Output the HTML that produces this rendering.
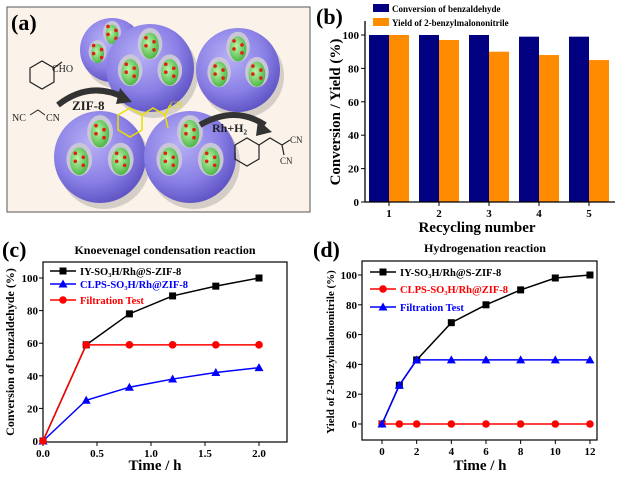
<!DOCTYPE html>
<html><head><meta charset="utf-8"><style>
body{margin:0;background:#fff;width:620px;height:477px;overflow:hidden}
svg{display:block;font-family:"Liberation Serif",serif;font-weight:bold}
</style></head><body>
<svg id="fig" width="620" height="477" viewBox="0 0 620 477" xmlns="http://www.w3.org/2000/svg">
<defs>
<radialGradient id="sph" cx="0.4" cy="0.35" r="0.7"><stop offset="0" stop-color="#b7b0f5"/><stop offset="0.6" stop-color="#8a80e6"/><stop offset="1" stop-color="#5a4fc0"/></radialGradient>
<radialGradient id="grn" cx="0.4" cy="0.4" r="0.7"><stop offset="0" stop-color="#b9f5a8"/><stop offset="1" stop-color="#3fae3a"/></radialGradient>
</defs>
<g>
<rect x="7" y="7" width="303" height="205" fill="#fbf3ea" stroke="#555" stroke-width="1"/>
<g id="spheres"></g>
<text x="11" y="30" font-size="22">(a)</text>
<g stroke="#222" fill="none" stroke-width="1.2">
<polygon points="30,68 42,61 54,68 54,82 42,89 30,82"/><line x1="54" y1="68" x2="62" y2="62"/></g>
<text x="52" y="72" font-size="10" font-weight="normal" fill="#222">CHO</text>
<text x="12" y="121" font-size="10" font-weight="normal" fill="#222">NC</text>
<polyline points="30,115 38,110 45,115" fill="none" stroke="#222"/>
<text x="46" y="121" font-size="10" font-weight="normal" fill="#222">CN</text>
<path d="M58,105 Q90,80 125,98" stroke="#333" stroke-width="6" fill="none"/>
<polygon points="120,88 132,102 116,104" fill="#333"/>
<text x="72" y="110" font-size="13" fill="#222">ZIF-8</text>
<g stroke="#e8e000" fill="none" stroke-width="1.5"><polygon points="118,115 130,108 142,115 142,130 130,137 118,130"/><polyline points="142,115 153,108 165,115 170,105"/><line x1="165" y1="115" x2="168" y2="128"/></g>
<text x="170" y="108" font-size="9" font-weight="normal" fill="#e8e000">CN</text>
<path d="M200,125 Q235,105 265,125" stroke="#333" stroke-width="6" fill="none"/>
<polygon points="258,120 272,132 256,136" fill="#333"/>
<text x="212" y="132" font-size="12" fill="#222">Rh+H₂</text>
<g stroke="#222" fill="none" stroke-width="1.2"><polygon points="235,145 247,138 259,145 259,159 247,166 235,159"/><polyline points="259,145 270,138 282,145"/><line x1="282" y1="145" x2="290" y2="140"/><line x1="282" y1="145" x2="284" y2="155"/></g>
<text x="290" y="143" font-size="9" font-weight="normal" fill="#222">CN</text>
<text x="280" y="164" font-size="9" font-weight="normal" fill="#222">CN</text>
</g>
<g id="pb"></g>
<g id="pc"></g>
<g id="pd"></g>
</svg>
<script>
const NS='http://www.w3.org/2000/svg';
function el(p,t,a,txt){const e=document.createElementNS(NS,t);for(const k in a)e.setAttribute(k,a[k]);if(txt!==undefined)e.textContent=txt;p.appendChild(e);return e;}

// Panel b data
const bCategories=[1,2,3,4,5];
const bConversion=[100,100,100,99,99];
const bYield=[100,97,90,88,85];
const bYTicks=[0,20,40,60,80,100];
// Panel c data
const cTime=[0,0.4,0.8,1.2,1.6,2.0];
const cIY=[0,59,78,89,95,100];
const cCLPS=[0,25,33,38,42,45];
const cFilt=[0,59,59,59,59,59];
const cXTicks=[0,0.5,1.0,1.5,2.0];
const cXTickLabels=['0.0','0.5','1.0','1.5','2.0'];
const cYTicks=[0,20,40,60,80,100];
// Panel d data
const dTime=[0,1,2,4,6,8,10,12];
const dIY=[0,26,43,68,80,90,98,100];
const dCLPS=[0,0,0,0,0,0,0,0];
const dFiltTime=[0,1,2,4,6,8,10,12];
const dFilt=[0,26,43,43,43,43,43,43];
const dXTicks=[0,2,4,6,8,10,12];
const dYTicks=[0,20,40,60,80,100];

// spheres for panel a
(function(){
 const g=document.getElementById('spheres');
 const S=[[112,50,32],[150,68,44],[238,70,42],[100,157,46],[190,157,46]];
 S.forEach((s,i)=>{
  const [cx,cy,r]=s;
  el(g,'circle',{cx:cx+4,cy:cy+6,r:r,fill:'#000',opacity:0.15});
  el(g,'circle',{cx,cy,r,fill:'url(#sph)'});
  [[-0.45,0.05],[0.45,0.05],[0,-0.55]].forEach(o=>{
   el(g,'ellipse',{cx:cx+o[0]*r,cy:cy+o[1]*r,rx:r*0.28,ry:r*0.36,fill:'#c9c6d8'});
   el(g,'ellipse',{cx:cx+o[0]*r,cy:cy+o[1]*r+2,rx:r*0.2,ry:r*0.3,fill:'url(#grn)'});
   for(let k=0;k<4;k++)el(g,'circle',{cx:cx+o[0]*r+(k%2?4:-4),cy:cy+o[1]*r-6+k*4,r:1.8,fill:'#e02010'});
  });
 });
})();

function yLabel(g,x,y,txt,fs){el(g,'text',{x:0,y:0,'font-size':fs,'text-anchor':'middle',transform:`translate(${x},${y}) rotate(-90)`},txt);}

// Panel b
(function(){
 const g=document.getElementById('pb');
 const L=365,R=615,T=21,B=202;
 const xs=c=>389+(c-1)*50; const ys=v=>B-v*1.67;
 bCategories.forEach((c,i)=>{
  const r1=el(g,'rect',{x:xs(c)-20,y:ys(bConversion[i]),width:20,height:B-ys(bConversion[i]),fill:'#000080'});
  
  
  const r2=el(g,'rect',{x:xs(c),y:ys(bYield[i]),width:20,height:B-ys(bYield[i]),fill:'#ff8c00'});
  
  
  el(g,'line',{x1:xs(c),x2:xs(c),y1:B,y2:B+4,stroke:'#000'});
  el(g,'text',{x:xs(c),y:B+15,'font-size':11,'text-anchor':'middle'},c);
 });
 el(g,'line',{x1:L,x2:L,y1:T,y2:B,stroke:'#000','stroke-width':1.3});
 el(g,'line',{x1:L,x2:R,y1:B,y2:B,stroke:'#000','stroke-width':1.3});
 bYTicks.forEach(v=>{el(g,'line',{x1:L-4,x2:L,y1:ys(v),y2:ys(v),stroke:'#000'});el(g,'text',{x:L-6,y:ys(v)+4,'font-size':11,'text-anchor':'end'},v);});
 yLabel(g,340,112,'Conversion / Yield (%)',15);
 el(g,'text',{x:477,y:232,'font-size':15,'text-anchor':'middle'},'Recycling number');
 el(g,'text',{x:316,y:24,'font-size':22},'(b)');
 el(g,'rect',{x:373,y:4,width:16,height:8,fill:'#000080'});
 el(g,'text',{x:392,y:12,'font-size':9},'Conversion of benzaldehyde');
 el(g,'rect',{x:373,y:18,width:16,height:8,fill:'#ff8c00'});
 el(g,'text',{x:392,y:26,'font-size':9},'Yield of 2-benzylmalononitrile');
})();

function series(g,xs,ys,X,Y,color,marker,name){
 const pts=X.map((x,i)=>xs(x)+','+ys(Y[i])).join(' ');
 const pl=el(g,'polyline',{points:pts,fill:'none',stroke:color,'stroke-width':1.5});
 
 
 X.forEach((x,i)=>drawMarker(g,xs(x),ys(Y[i]),color,marker));
}
function drawMarker(g,x,y,c,m){
 if(m==='s')el(g,'rect',{x:x-3.5,y:y-3.5,width:7,height:7,fill:c});
 else if(m==='o')el(g,'circle',{cx:x,cy:y,r:3.8,fill:c});
 else el(g,'polygon',{points:`${x},${y-4.5} ${x+4.5},${y+3.5} ${x-4.5},${y+3.5}`,fill:c});
}
function legend(g,x,y,c,m,txt){
 el(g,'line',{x1:x,x2:x+26,y1:y,y2:y,stroke:c,'stroke-width':1.5});drawMarker(g,x+13,y,c,m);
 el(g,'text',{x:x+30,y:y+4,'font-size':10.5,fill:c},txt);
}

// Panel c
(function(){
 const g=document.getElementById('pc');
 const L=43,R=287,T=262,B=442;
 const xs=t=>43+t*108; const ys=v=>441-v*1.63;
 el(g,'rect',{x:L,y:T,width:R-L,height:B-T,fill:'none',stroke:'#000','stroke-width':1.2});
 cXTicks.forEach((t,i)=>{el(g,'line',{x1:xs(t),x2:xs(t),y1:B,y2:B+4,stroke:'#000'});el(g,'text',{x:xs(t),y:B+15,'font-size':11,'text-anchor':'middle'},cXTickLabels[i]);});
 cYTicks.forEach(v=>{el(g,'line',{x1:L-4,x2:L,y1:ys(v),y2:ys(v),stroke:'#000'});el(g,'text',{x:L-5,y:ys(v)+4,'font-size':11,'text-anchor':'end'},v);});
 series(g,xs,ys,cTime,cIY,'#000','s','iy-series');
 series(g,xs,ys,cTime,cCLPS,'#0000ff','t','clps-series');
 series(g,xs,ys,cTime,cFilt,'#ff0000','o','filtration-series');
 legend(g,50,271,'#000','s','IY-SO₃H/Rh@S-ZIF-8');
 legend(g,50,284,'#0000ff','t','CLPS-SO₃H/Rh@ZIF-8');
 legend(g,50,300,'#ff0000','o','Filtration Test');
 el(g,'text',{x:165,y:254,'font-size':12,'text-anchor':'middle'},'Knoevenagel condensation reaction');
 el(g,'text',{x:2,y:257,'font-size':22},'(c)');
 yLabel(g,14,352,'Conversion of benzaldehyde (%)',12);
 el(g,'text',{x:155,y:470,'font-size':15,'text-anchor':'middle'},'Time / h');
})();

// Panel d
(function(){
 const g=document.getElementById('pd');
 const L=362,R=597,T=261,B=440;
 const xs=t=>382+t*17.33; const ys=v=>424-v*1.49;
 el(g,'rect',{x:L,y:T,width:R-L,height:B-T,fill:'none',stroke:'#000','stroke-width':1.2});
 dXTicks.forEach(t=>{el(g,'line',{x1:xs(t),x2:xs(t),y1:B,y2:B+4,stroke:'#000'});el(g,'text',{x:xs(t),y:B+15,'font-size':11,'text-anchor':'middle'},t);});
 dYTicks.forEach(v=>{el(g,'line',{x1:L-4,x2:L,y1:ys(v),y2:ys(v),stroke:'#000'});el(g,'text',{x:L-5,y:ys(v)+4,'font-size':11,'text-anchor':'end'},v);});
 series(g,xs,ys,dTime,dIY,'#000','s','iy-series');
 series(g,xs,ys,dTime,dCLPS,'#ff0000','o','clps-series');
 series(g,xs,ys,dFiltTime,dFilt,'#0000ff','t','filtration-series');
 legend(g,370,272,'#000','s','IY-SO₃H/Rh@S-ZIF-8');
 legend(g,370,289,'#ff0000','o','CLPS-SO₃H/Rh@ZIF-8');
 legend(g,370,307,'#0000ff','t','Filtration Test');
 el(g,'text',{x:485,y:252,'font-size':12,'text-anchor':'middle'},'Hydrogenation reaction');
 el(g,'text',{x:313,y:257,'font-size':22},'(d)');
 yLabel(g,334,352,'Yield of 2-benzylmalononitrile (%)',11);
 el(g,'text',{x:480,y:470,'font-size':15,'text-anchor':'middle'},'Time / h');
})();
</script>
</body></html>
